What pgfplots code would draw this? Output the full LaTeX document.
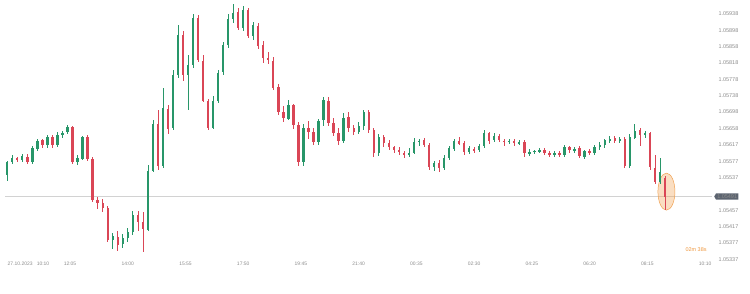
\documentclass[border=0pt]{standalone}
\usepackage{pgfplots}
\pgfplotsset{compat=1.18}
\usepackage{pgfplotstable}
\usepackage{fontspec}
\setmainfont{Liberation Sans}
\usetikzlibrary{shapes.symbols}
\definecolor{cgreen}{RGB}{40,150,105}
\definecolor{cred}{RGB}{218,70,86}
\definecolor{ctick}{RGB}{140,140,140}
\definecolor{ctag}{RGB}{92,100,112}
\definecolor{corange}{RGB}{240,160,80}
\definecolor{ctext}{RGB}{238,150,60}
\definecolor{cline}{RGB}{210,210,210}

\pgfplotstableread{
t o h l c d
-2 1.05544 1.05580 1.05531 1.05576 1
0 1.05576 1.05593 1.05571 1.05585 1
2 1.05585 1.05590 1.05576 1.05580 0
4 1.05580 1.05595 1.05576 1.05590 1
6 1.05590 1.05595 1.05571 1.05576 0
8 1.05576 1.05615 1.05571 1.05610 1
10 1.05610 1.05634 1.05605 1.05629 1
12 1.05629 1.05634 1.05610 1.05617 0
14 1.05617 1.05642 1.05612 1.05637 1
16 1.05637 1.05642 1.05610 1.05617 0
18 1.05617 1.05649 1.05612 1.05642 1
20 1.05642 1.05654 1.05637 1.05649 1
22 1.05649 1.05666 1.05644 1.05661 1
24 1.05661 1.05664 1.05571 1.05576 0
26 1.05576 1.05593 1.05568 1.05585 1
28 1.05585 1.05639 1.05580 1.05637 1
30 1.05637 1.05642 1.05580 1.05585 0
32 1.05585 1.05588 1.05478 1.05483 0
34 1.05483 1.05492 1.05463 1.05475 0
36 1.05475 1.05487 1.05453 1.05463 0
38 1.05463 1.05468 1.05380 1.05385 0
40 1.05385 1.05404 1.05365 1.05394 1
42 1.05394 1.05409 1.05360 1.05375 0
44 1.05375 1.05399 1.05365 1.05389 1
46 1.05389 1.05414 1.05380 1.05404 1
48 1.05404 1.05456 1.05397 1.05446 1
50 1.05446 1.05458 1.05409 1.05429 0
52 1.05429 1.05453 1.05355 1.05411 0
54 1.05411 1.05568 1.05407 1.05556 1
56 1.05556 1.05678 1.05551 1.05671 1
58 1.05671 1.05703 1.05556 1.05568 0
60 1.05568 1.05757 1.05561 1.05708 1
62 1.05708 1.05715 1.05644 1.05659 0
64 1.05659 1.05801 1.05654 1.05789 1
66 1.05789 1.05911 1.05781 1.05887 1
68 1.05887 1.05899 1.05776 1.05789 0
70 1.05789 1.05838 1.05703 1.05813 1
72 1.05813 1.05940 1.05806 1.05928 1
74 1.05928 1.05936 1.05820 1.05825 0
76 1.05825 1.05838 1.05723 1.05727 0
78 1.05727 1.05732 1.05654 1.05661 0
80 1.05661 1.05737 1.05656 1.05727 1
82 1.05727 1.05801 1.05720 1.05796 1
84 1.05796 1.05869 1.05789 1.05862 1
86 1.05862 1.05938 1.05855 1.05928 1
88 1.05928 1.05965 1.05918 1.05943 1
90 1.05943 1.05953 1.05899 1.05904 0
92 1.05904 1.05960 1.05899 1.05948 1
94 1.05948 1.05953 1.05879 1.05884 0
96 1.05884 1.05918 1.05874 1.05911 1
98 1.05911 1.05918 1.05855 1.05862 0
100 1.05862 1.05874 1.05820 1.05830 0
102 1.05830 1.05845 1.05816 1.05825 0
104 1.05825 1.05833 1.05752 1.05759 0
106 1.05759 1.05767 1.05691 1.05698 0
108 1.05698 1.05713 1.05674 1.05683 0
110 1.05683 1.05727 1.05678 1.05715 1
112 1.05715 1.05720 1.05659 1.05666 0
114 1.05666 1.05674 1.05568 1.05576 0
116 1.05576 1.05671 1.05568 1.05659 1
118 1.05659 1.05678 1.05634 1.05649 0
120 1.05649 1.05659 1.05617 1.05625 0
122 1.05625 1.05683 1.05617 1.05678 1
124 1.05678 1.05737 1.05666 1.05727 1
126 1.05727 1.05735 1.05664 1.05671 0
128 1.05671 1.05683 1.05639 1.05647 0
130 1.05647 1.05659 1.05617 1.05629 0
132 1.05629 1.05696 1.05622 1.05686 1
134 1.05686 1.05698 1.05649 1.05659 0
136 1.05659 1.05666 1.05642 1.05649 0
138 1.05649 1.05674 1.05644 1.05664 1
140 1.05664 1.05703 1.05654 1.05698 1
142 1.05698 1.05703 1.05647 1.05654 0
144 1.05654 1.05661 1.05590 1.05598 0
146 1.05598 1.05644 1.05590 1.05637 1
148 1.05637 1.05642 1.05615 1.05622 0
150 1.05622 1.05629 1.05605 1.05612 0
152 1.05612 1.05617 1.05598 1.05605 0
154 1.05605 1.05612 1.05593 1.05600 0
156 1.05600 1.05605 1.05588 1.05593 0
158 1.05593 1.05610 1.05588 1.05600 1
160 1.05600 1.05634 1.05595 1.05627 1
162 1.05627 1.05634 1.05617 1.05629 1
164 1.05629 1.05634 1.05612 1.05617 0
166 1.05617 1.05622 1.05556 1.05563 0
168 1.05563 1.05580 1.05554 1.05573 1
170 1.05573 1.05580 1.05551 1.05561 0
172 1.05561 1.05593 1.05556 1.05585 1
174 1.05585 1.05615 1.05580 1.05610 1
176 1.05610 1.05634 1.05605 1.05629 1
178 1.05629 1.05637 1.05617 1.05622 0
180 1.05622 1.05629 1.05595 1.05600 0
182 1.05600 1.05615 1.05595 1.05610 1
184 1.05610 1.05615 1.05600 1.05605 0
186 1.05605 1.05620 1.05600 1.05615 1
188 1.05615 1.05654 1.05610 1.05647 1
190 1.05647 1.05651 1.05622 1.05629 0
192 1.05629 1.05647 1.05625 1.05639 1
194 1.05639 1.05644 1.05625 1.05629 0
196 1.05629 1.05634 1.05617 1.05625 0
198 1.05625 1.05632 1.05620 1.05627 1
200 1.05627 1.05632 1.05615 1.05622 0
202 1.05622 1.05629 1.05617 1.05625 1
204 1.05625 1.05629 1.05588 1.05598 0
206 1.05598 1.05607 1.05590 1.05600 1
208 1.05600 1.05607 1.05595 1.05603 1
210 1.05603 1.05610 1.05598 1.05605 1
212 1.05605 1.05610 1.05593 1.05598 0
214 1.05598 1.05603 1.05588 1.05593 0
216 1.05593 1.05603 1.05588 1.05598 1
218 1.05598 1.05603 1.05588 1.05593 0
220 1.05593 1.05617 1.05588 1.05612 1
222 1.05612 1.05617 1.05598 1.05605 0
224 1.05605 1.05615 1.05600 1.05610 1
226 1.05610 1.05615 1.05585 1.05590 0
228 1.05590 1.05607 1.05585 1.05603 1
230 1.05603 1.05607 1.05593 1.05598 0
232 1.05598 1.05617 1.05593 1.05612 1
234 1.05612 1.05625 1.05605 1.05617 1
236 1.05617 1.05634 1.05610 1.05629 1
238 1.05629 1.05639 1.05622 1.05634 1
240 1.05634 1.05639 1.05622 1.05627 0
242 1.05627 1.05637 1.05622 1.05632 1
244 1.05632 1.05637 1.05561 1.05566 0
246 1.05566 1.05644 1.05561 1.05637 1
248 1.05637 1.05669 1.05634 1.05654 1
250 1.05654 1.05659 1.05615 1.05642 0
252 1.05642 1.05654 1.05637 1.05647 1
254 1.05647 1.05651 1.05558 1.05563 0
256 1.05563 1.05593 1.05522 1.05527 0
258 1.05527 1.05585 1.05522 1.05551 1
260 1.05536 1.05541 1.05458 1.05491 0
}\candles

\begin{document}
\begin{tikzpicture}
\useasboundingbox (0,0) rectangle (750bp,294bp);
\begin{axis}[
  at={(0,0)}, anchor=south west,
  scale only axis, width=712bp, height=294bp,
  xmin=-4.9, xmax=278.76, ymin=1.052523, ymax=1.059723,
  axis line style={draw=none},
  clip=false,
  xtick={6.45,23,46,69,92,115,138,161,184,207,230,253,276},
  xticklabels={27.10.2023\ \ \ 10:10,12:05,14:00,15:55,17:50,19:45,21:40,00:35,02:30,04:25,06:20,08:15,10:10},
  ytick={1.05938,1.05898,1.05858,1.05818,1.05778,1.05738,1.05698,1.05658,1.05617,1.05577,1.05537,1.05457,1.05417,1.05377,1.05337},
  yticklabels={1.05938,1.05898,1.05858,1.05818,1.05778,1.05738,1.05698,1.05658,1.05617,1.05577,1.05537,1.05457,1.05417,1.05377,1.05337},
  yticklabel pos=right,
  extra y ticks={1.05491},
  extra y tick labels={1.05491},
  extra y tick style={tick label style={fill=ctag, text=white, shape=signal, signal to=west, signal pointer angle=120, inner sep=1.2bp, xshift=-1bp}},
  major tick length=0pt,
  tick style={draw=none},
  x tick label style={font=\fontsize{5}{6}\selectfont, text=ctick, anchor=center, yshift=30bp},
  y tick label style={font=\fontsize{5.5}{6}\selectfont, text=ctick, anchor=west, xshift=3bp},
]
% current price line
\addplot[cline, line width=0.8bp, forget plot] coordinates {(-2.9,1.05491) (278.76,1.05491)};
% highlight around last candle
\fill[corange, fill opacity=0.35] (axis cs:260.6,1.05503) ellipse [x radius=8.5bp, y radius=18.5bp];
\draw[corange, line width=0.5bp] (axis cs:260.6,1.05503) ellipse [x radius=8.5bp, y radius=18.5bp];
% wicks
\addplot[draw=none, mark=none, forget plot, restrict expr to domain={\thisrow{d}}{0.5:1.5},
  error bars/.cd, y dir=both, y explicit, error mark=none, error bar style={draw=cgreen, line width=0.6bp}]
  table[x=t, y expr={(\thisrow{h}+\thisrow{l})/2}, y error expr={(\thisrow{h}-\thisrow{l})/2}] {\candles};
\addplot[draw=none, mark=none, forget plot, restrict expr to domain={\thisrow{d}}{-0.5:0.5},
  error bars/.cd, y dir=both, y explicit, error mark=none, error bar style={draw=cred, line width=0.6bp}]
  table[x=t, y expr={(\thisrow{h}+\thisrow{l})/2}, y error expr={(\thisrow{h}-\thisrow{l})/2}] {\candles};
% bodies
\addplot[draw=none, mark=none, forget plot, restrict expr to domain={\thisrow{d}}{0.5:1.5},
  error bars/.cd, y dir=both, y explicit, error mark=none, error bar style={draw=cgreen, line width=2.3bp}]
  table[x=t, y expr={(\thisrow{o}+\thisrow{c})/2}, y error expr={abs(\thisrow{c}-\thisrow{o})/2}] {\candles};
\addplot[draw=none, mark=none, forget plot, restrict expr to domain={\thisrow{d}}{-0.5:0.5},
  error bars/.cd, y dir=both, y explicit, error mark=none, error bar style={draw=cred, line width=2.3bp}]
  table[x=t, y expr={(\thisrow{o}+\thisrow{c})/2}, y error expr={abs(\thisrow{c}-\thisrow{o})/2}] {\candles};
% countdown
\node[text=ctext, font=\fontsize{5.5}{6.5}\selectfont] at (axis cs:272.4,1.05362) {02m 38s};
\end{axis}
\end{tikzpicture}
\end{document}
